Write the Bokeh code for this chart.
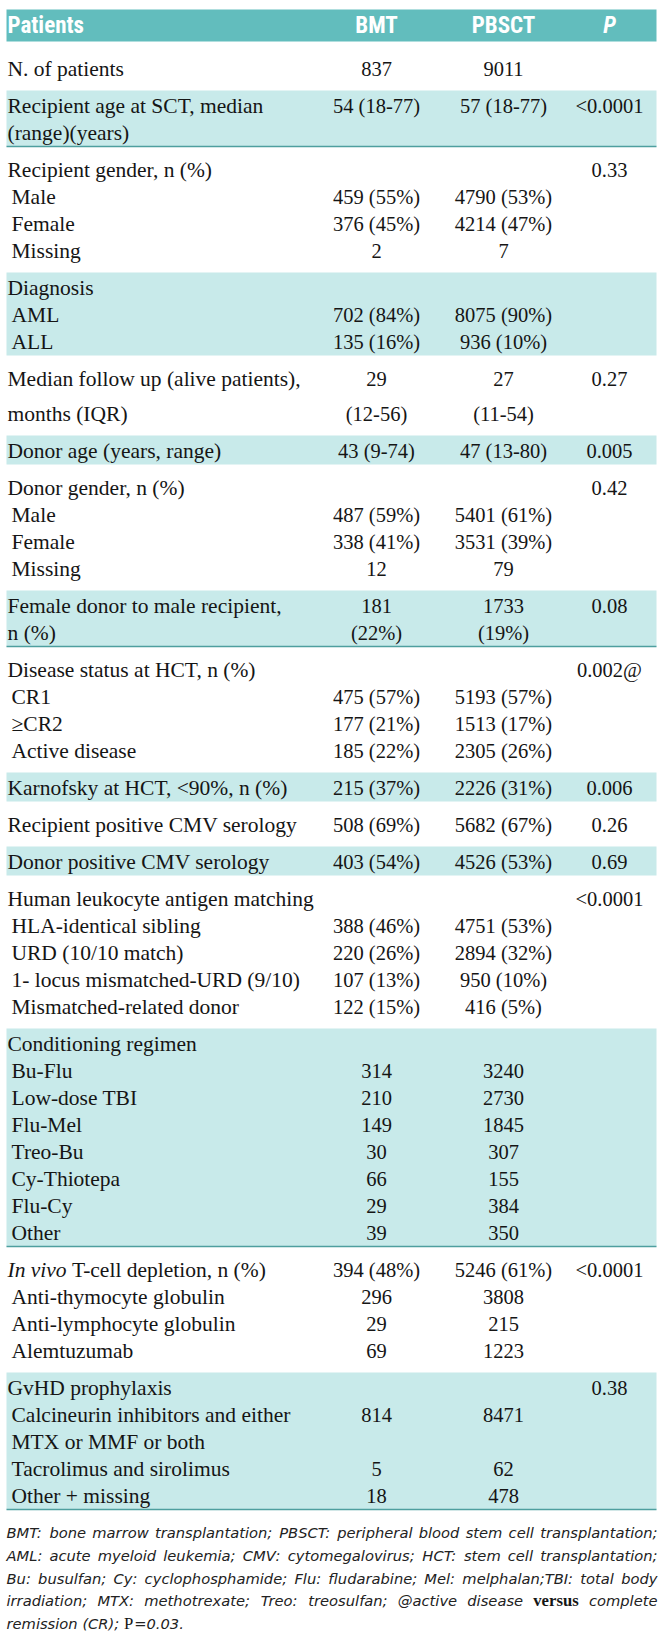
from bokeh.plotting import figure
from bokeh.models import Range1d, ColumnDataSource
from bokeh.core.properties import value
from bokeh.embed import file_html
from bokeh.resources import INLINE

# ---------------- data ----------------
header_labels = ["Patients", "BMT", "PBSCT", "P"]

row_labels = [
    "N. of patients",
    "Recipient age at SCT, median", "(range)(years)",
    "Recipient gender, n (%)", "Male", "Female", "Missing",
    "Diagnosis", "AML", "ALL",
    "Median follow up (alive patients),", "months (IQR)",
    "Donor age (years, range)",
    "Donor gender, n (%)", "Male", "Female", "Missing",
    "Female donor to male recipient,", "n (%)",
    "Disease status at HCT, n (%)", "CR1", "\u2265CR2", "Active disease",
    "Karnofsky at HCT, <90%, n (%)",
    "Recipient positive CMV serology",
    "Donor positive CMV serology",
    "Human leukocyte antigen matching", "HLA-identical sibling", "URD (10/10 match)",
    "1- locus mismatched-URD (9/10)", "Mismatched-related donor",
    "Conditioning regimen", "Bu-Flu", "Low-dose TBI", "Flu-Mel", "Treo-Bu",
    "Cy-Thiotepa", "Flu-Cy", "Other",
    "In vivo T-cell depletion, n (%)", "Anti-thymocyte globulin",
    "Anti-lymphocyte globulin", "Alemtuzumab",
    "GvHD prophylaxis", "Calcineurin inhibitors and either", "MTX or MMF or both",
    "Tacrolimus and sirolimus", "Other + missing",
]

indented = [
    0,
    0, 0,
    0, 1, 1, 1,
    0, 1, 1,
    0, 0,
    0,
    0, 1, 1, 1,
    0, 0,
    0, 1, 1, 1,
    0,
    0,
    0,
    0, 1, 1, 1, 1,
    0, 1, 1, 1, 1, 1, 1, 1,
    0, 1, 1, 1,
    0, 1, 1, 1, 1,
]

row_group = [
    0,
    1, 1,
    2, 2, 2, 2,
    3, 3, 3,
    4, 4,
    5,
    6, 6, 6, 6,
    7, 7,
    8, 8, 8, 8,
    9,
    10,
    11,
    12, 12, 12, 12, 12,
    13, 13, 13, 13, 13, 13, 13, 13,
    14, 14, 14, 14,
    15, 15, 15, 15, 15,
]

bmt_values = [
    "837",
    "54 (18-77)", "",
    "", "459 (55%)", "376 (45%)", "2",
    "", "702 (84%)", "135 (16%)",
    "29", "(12-56)",
    "43 (9-74)",
    "", "487 (59%)", "338 (41%)", "12",
    "181", "(22%)",
    "", "475 (57%)", "177 (21%)", "185 (22%)",
    "215 (37%)",
    "508 (69%)",
    "403 (54%)",
    "", "388 (46%)", "220 (26%)", "107 (13%)", "122 (15%)",
    "", "314", "210", "149", "30", "66", "29", "39",
    "394 (48%)", "296", "29", "69",
    "", "814", "", "5", "18",
]

pbsct_values = [
    "9011",
    "57 (18-77)", "",
    "", "4790 (53%)", "4214 (47%)", "7",
    "", "8075 (90%)", "936 (10%)",
    "27", "(11-54)",
    "47 (13-80)",
    "", "5401 (61%)", "3531 (39%)", "79",
    "1733", "(19%)",
    "", "5193 (57%)", "1513 (17%)", "2305 (26%)",
    "2226 (31%)",
    "5682 (67%)",
    "4526 (53%)",
    "", "4751 (53%)", "2894 (32%)", "950 (10%)", "416 (5%)",
    "", "3240", "2730", "1845", "307", "155", "384", "350",
    "5246 (61%)", "3808", "215", "1223",
    "", "8471", "", "62", "478",
]

p_values = [
    "",
    "<0.0001", "",
    "0.33", "", "", "",
    "", "", "",
    "0.27", "",
    "0.005",
    "0.42", "", "", "",
    "0.08", "",
    "0.002@", "", "", "",
    "0.006",
    "0.26",
    "0.69",
    "<0.0001", "", "", "", "",
    "", "", "", "", "", "", "", "",
    "<0.0001", "", "", "",
    "0.38", "", "", "", "",
]

shaded_groups = [1, 3, 5, 7, 9, 11, 13, 15]
ruled_groups = [1, 7, 13, 15]
wide_pitch_groups = [4]

footnote_lines = [
    "BMT: bone marrow transplantation; PBSCT: peripheral blood stem cell transplantation;",
    "AML: acute myeloid leukemia; CMV: cytomegalovirus; HCT: stem cell transplantation;",
    "Bu: busulfan; Cy: cyclophosphamide; Flu: fludarabine; Mel: melphalan;TBI: total body",
    "irradiation; MTX: methotrexate; Treo: treosulfan; @active disease versus complete",
    "remission (CR); P=0.03.",
]
footnote_bold_words = ["versus"]

# ---------------- style / layout ----------------
HEADER_BG = "#62bdbd"
BAND_BG = "#c8eaea"
RULE = "#4e9f9f"
INK = "#151515"
FOOT_INK = "#222222"
SERIF = "Liberation Serif"
HEAD_FONT = "Roboto Condensed, Liberation Sans Narrow, Roboto, sans-serif"
FOOT_FONT = "DejaVu Sans"
LABEL_SIZE = 21.5
NUM_SIZE = 20.5
HEAD_SIZE = 23
FOOT_SIZE = 14.7

X_LEFT, X_RIGHT = 6, 656
COL_X = {"bmt": 376, "pbsct": 503, "p": 609}
LABEL_X, INDENT_X = 7, 11
FIRST_Y = 68
PITCH, WIDE_PITCH, GROUP_STEP = 27, 35, 37
BAND_PAD_TOP, BAND_PAD_BOTTOM = 15, 14

W, H = 663, 1635
p = figure(width=W, height=H, x_range=Range1d(0, W), y_range=Range1d(H, 0),
           output_backend="svg", toolbar_location=None, min_border=0,
           x_axis_location=None, y_axis_location=None)
p.xgrid.visible = False
p.ygrid.visible = False
p.outline_line_color = None
p.background_fill_color = "white"
p.border_fill_color = "white"

n = len(row_labels)
ys = []
y = FIRST_Y
for i in range(n):
    if i > 0:
        if row_group[i] == row_group[i - 1]:
            y += WIDE_PITCH if row_group[i] in wide_pitch_groups else PITCH
        else:
            y += GROUP_STEP
    ys.append(y)

# header band
p.quad(left=[X_LEFT], right=[X_RIGHT], top=[9], bottom=[41],
       fill_color=HEADER_BG, line_color=None)

# shaded bands
tops, bottoms, rule_y = [], [], []
for g in shaded_groups:
    idx = [i for i in range(n) if row_group[i] == g]
    t = ys[idx[0]] - BAND_PAD_TOP
    b = ys[idx[-1]] + BAND_PAD_BOTTOM
    tops.append(t)
    bottoms.append(b)
    if g in ruled_groups:
        rule_y.append(b)
p.quad(left=X_LEFT, right=X_RIGHT, top=tops, bottom=bottoms,
       fill_color=BAND_BG, line_color=None)
p.segment(x0=X_LEFT, x1=X_RIGHT, y0=rule_y, y1=rule_y, line_color=RULE, line_width=1.6)

# header texts
hy = 25
p.text(x=[LABEL_X], y=[hy], text=[header_labels[0]], text_font=value(HEAD_FONT),
       text_font_style="bold", text_font_size=f"{HEAD_SIZE}px", text_color="white",
       text_align="left", text_baseline="middle")
p.text(x=[COL_X["bmt"], COL_X["pbsct"]], y=[hy, hy], text=header_labels[1:3],
       text_font=value(HEAD_FONT), text_font_style="bold", text_font_size=f"{HEAD_SIZE}px",
       text_color="white", text_align="center", text_baseline="middle")
p.text(x=[COL_X["p"]], y=[hy], text=[header_labels[3]], text_font=value(HEAD_FONT),
       text_font_style="bold italic", text_font_size=f"{HEAD_SIZE}px", text_color="white",
       text_align="center", text_baseline="middle")

# row labels
lx, ly, lt = [], [], []
ix, iy, it = [], [], []
for i in range(n):
    x0 = INDENT_X if indented[i] else LABEL_X
    lab = row_labels[i]
    if lab.startswith("In vivo "):
        ix.append(x0); iy.append(ys[i]); it.append("In vivo")
        lx.append(x0 + 3.0 * LABEL_SIZE); ly.append(ys[i]); lt.append(lab[len("In vivo "):])
    else:
        lx.append(x0); ly.append(ys[i]); lt.append(lab)
p.text(x=lx, y=ly, text=lt, text_font=value(SERIF), text_font_size=f"{LABEL_SIZE}px",
       text_color=INK, text_align="left", text_baseline="middle")
p.text(x=ix, y=iy, text=it, text_font=value(SERIF), text_font_style="italic",
       text_font_size=f"{LABEL_SIZE}px", text_color=INK, text_align="left",
       text_baseline="middle")

# value columns
for key, vals in (("bmt", bmt_values), ("pbsct", pbsct_values), ("p", p_values)):
    sel = [i for i in range(n) if vals[i]]
    src = ColumnDataSource(dict(x=[COL_X[key]] * len(sel), y=[ys[i] for i in sel],
                                t=[vals[i] for i in sel]))
    p.text(x="x", y="y", text="t", source=src, text_font=value(SERIF),
           text_font_size=f"{NUM_SIZE}px", text_color=INK, text_align="center",
           text_baseline="middle")

# ---------------- footnote (justified) ----------------
DV = {" ": .318, "a": .613, "b": .635, "c": .550, "d": .635, "e": .615, "f": .352,
      "g": .635, "h": .634, "i": .278, "j": .278, "k": .579, "l": .278, "m": .974,
      "n": .634, "o": .612, "p": .635, "q": .635, "r": .411, "s": .521, "t": .392,
      "u": .634, "v": .592, "w": .818, "x": .592, "y": .592, "z": .525,
      "A": .684, "B": .686, "C": .698, "D": .770, "E": .632, "F": .575, "G": .775,
      "H": .752, "I": .295, "J": .295, "K": .656, "L": .557, "M": .863, "N": .748,
      "O": .787, "P": .603, "Q": .787, "R": .695, "S": .635, "T": .611, "U": .732,
      "V": .684, "W": .989, "X": .685, "Y": .611, "Z": .685,
      ".": .318, ",": .318, ":": .337, ";": .337, "(": .390, ")": .390, "@": 1.0,
      "=": .838, "-": .361, "/": .337}
TIMES_BOLD = {"v": .5, "e": .444, "r": .444, "s": .389, "u": .556, "P": .611}


def est_width(word, size, table=DV):
    return sum(table.get(c, .6) for c in word) * size


FOOT_Y0, FOOT_PITCH = 1532, 22.8
f_norm = dict(x=[], y=[], t=[], a=[])
f_bold = dict(x=[], y=[], t=[], a=[])
f_up = dict(x=[], y=[], t=[], a=[])
for li, line in enumerate(footnote_lines):
    fy = FOOT_Y0 + li * FOOT_PITCH
    words = line.split(" ")
    last = li == len(footnote_lines) - 1
    if not last:
        widths = [est_width(w, FOOT_SIZE + 2, TIMES_BOLD) if w in footnote_bold_words
                  else est_width(w, FOOT_SIZE) for w in words]
        gap = (X_RIGHT + 1 - X_LEFT - sum(widths)) / (len(words) - 1)
        cx = X_LEFT
        for k, (w, ww) in enumerate(zip(words, widths)):
            if k == 0:
                xx, al = cx, "left"
            elif k == len(words) - 1:
                xx, al = X_RIGHT + 1, "right"
            else:
                xx, al = cx + ww / 2, "center"
            d = f_bold if w in footnote_bold_words else f_norm
            d["x"].append(xx); d["y"].append(fy); d["t"].append(w); d["a"].append(al)
            cx += ww + gap
    else:
        cx = X_LEFT
        for w in words:
            if w.startswith("P="):
                f_up["x"].append(cx); f_up["y"].append(fy); f_up["t"].append("P"); f_up["a"].append("left")
                cx += (FOOT_SIZE + 2) * 0.611
                rest = w[1:]
                f_norm["x"].append(cx); f_norm["y"].append(fy); f_norm["t"].append(rest); f_norm["a"].append("left")
                cx += est_width(rest, FOOT_SIZE) + DV[" "] * FOOT_SIZE
            else:
                f_norm["x"].append(cx); f_norm["y"].append(fy); f_norm["t"].append(w); f_norm["a"].append("left")
                cx += est_width(w, FOOT_SIZE) + DV[" "] * FOOT_SIZE

p.text(x="x", y="y", text="t", text_align="a", source=ColumnDataSource(f_norm),
       text_font=value(FOOT_FONT), text_font_style="italic",
       text_font_size=f"{FOOT_SIZE}px", text_color=FOOT_INK, text_baseline="middle")
p.text(x="x", y="y", text="t", text_align="a", source=ColumnDataSource(f_bold),
       text_font=value(SERIF), text_font_style="bold",
       text_font_size=f"{FOOT_SIZE + 2}px", text_color=INK, text_baseline="middle")
p.text(x="x", y="y", text="t", text_align="a", source=ColumnDataSource(f_up),
       text_font=value(SERIF), text_font_size=f"{FOOT_SIZE + 2}px",
       text_color=INK, text_baseline="middle")

open("out.html", "w").write(file_html(p, INLINE))
